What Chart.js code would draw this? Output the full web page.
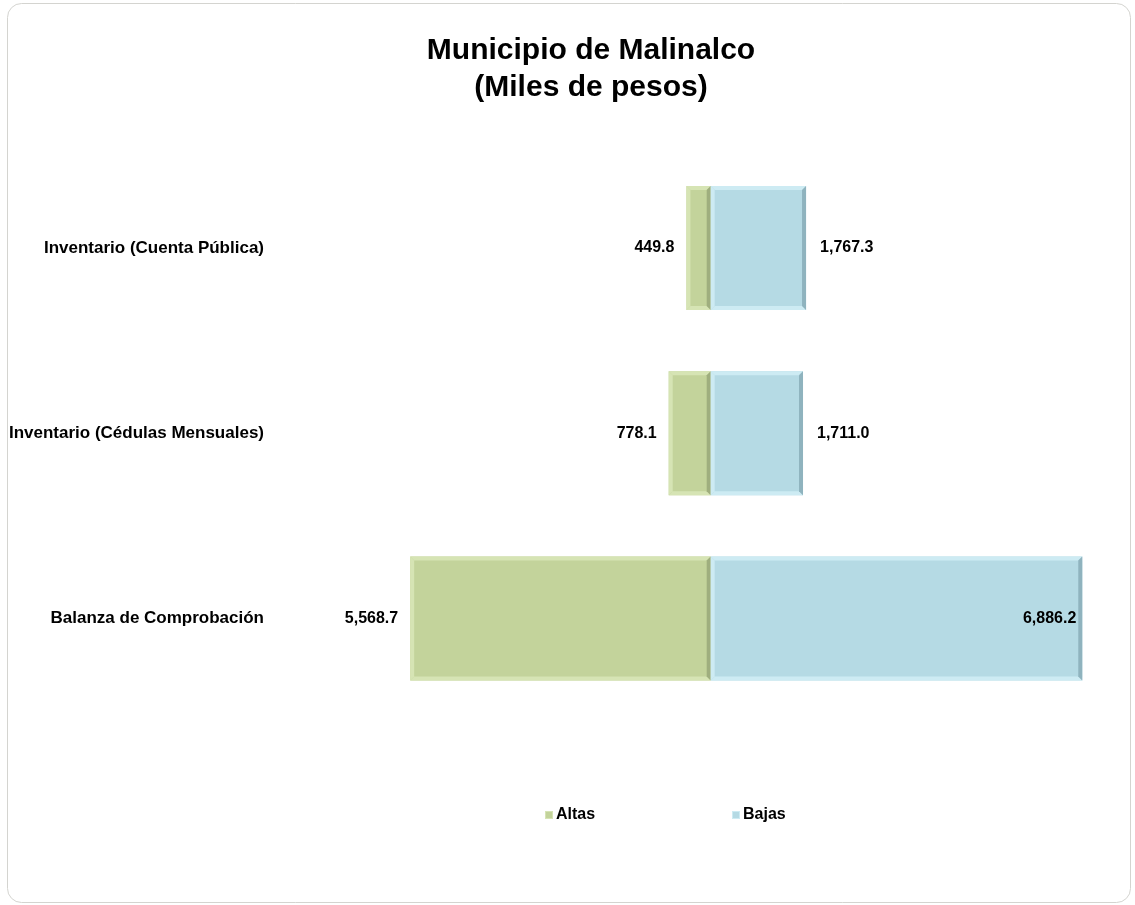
<!DOCTYPE html>
<html>
<head>
<meta charset="utf-8">
<script src="https://cdn.jsdelivr.net/npm/chart.js@4.4.0/dist/chart.umd.min.js"></script>
<style>
  html, body { margin: 0; padding: 0; background: #ffffff; }
  canvas { display: block; }
</style>
</head>
<body>
<canvas id="c" width="1135" height="905"></canvas>
<script>
const categories = ['Inventario (Cuenta Pública)', 'Inventario (Cédulas Mensuales)', 'Balanza de Comprobación'];
const altas = [449.8, 778.1, 5568.7];
const bajas = [1767.3, 1711.0, 6886.2];
const seriesNames = ['Altas', 'Bajas'];
const titleLines = ['Municipio de Malinalco', '(Miles de pesos)'];

const FONT = '"Liberation Sans", Arial, sans-serif';
const palette = {
  Altas: { fill: '#C3D39B', light: '#D6E4B4', dark: '#9FAE7E' },
  Bajas: { fill: '#B5DAE4', light: '#CDEBF3', dark: '#8FB3BE' }
};

const fmt = v => Math.abs(v).toLocaleString('en-US', { minimumFractionDigits: 1, maximumFractionDigits: 1 });

const framePlugin = {
  id: 'frame',
  beforeDraw(chart) {
    const ctx = chart.ctx;
    ctx.save();
    ctx.fillStyle = '#ffffff';
    ctx.fillRect(0, 0, chart.width, chart.height);
    ctx.strokeStyle = '#D4D4D0';
    ctx.lineWidth = 1;
    ctx.beginPath();
    ctx.roundRect(7.5, 3.5, chart.width - 12, chart.height - 6, 14);
    ctx.stroke();
    ctx.restore();
  }
};

const titlePlugin = {
  id: 'customTitle',
  afterDraw(chart) {
    const ctx = chart.ctx;
    ctx.save();
    ctx.font = 'bold 30px ' + FONT;
    ctx.fillStyle = '#000000';
    ctx.textAlign = 'center';
    ctx.textBaseline = 'middle';
    titleLines.forEach((t, i) => ctx.fillText(t, 591, 51 + i * 36.7));
    ctx.restore();
  }
};

const bevelPlugin = {
  id: 'bevel',
  afterDatasetsDraw(chart) {
    const ctx = chart.ctx;
    const b = 4;
    chart.data.datasets.forEach((ds, di) => {
      const meta = chart.getDatasetMeta(di);
      const col = palette[ds.label];
      meta.data.forEach(el => {
        const p = el.getProps(['x', 'y', 'base', 'height'], true);
        const l = Math.min(p.x, p.base), r = Math.max(p.x, p.base);
        const t = p.y - p.height / 2, bt = p.y + p.height / 2;
        ctx.save();
        ctx.fillStyle = col.light;
        ctx.beginPath(); ctx.moveTo(l, t); ctx.lineTo(r, t); ctx.lineTo(r - b, t + b); ctx.lineTo(l + b, t + b); ctx.closePath(); ctx.fill();
        ctx.beginPath(); ctx.moveTo(l, bt); ctx.lineTo(r, bt); ctx.lineTo(r - b, bt - b); ctx.lineTo(l + b, bt - b); ctx.closePath(); ctx.fill();
        ctx.beginPath(); ctx.moveTo(l, t); ctx.lineTo(l + b, t + b); ctx.lineTo(l + b, bt - b); ctx.lineTo(l, bt); ctx.closePath(); ctx.fill();
        ctx.fillStyle = col.dark;
        ctx.beginPath(); ctx.moveTo(r, t); ctx.lineTo(r - b, t + b); ctx.lineTo(r - b, bt - b); ctx.lineTo(r, bt); ctx.closePath(); ctx.fill();
        ctx.restore();
      });
    });
  }
};

const valueLabelPlugin = {
  id: 'valueLabels',
  afterDatasetsDraw(chart) {
    const ctx = chart.ctx;
    const area = chart.chartArea;
    ctx.save();
    ctx.font = 'bold 16px ' + FONT;
    ctx.fillStyle = '#000000';
    ctx.textBaseline = 'middle';
    chart.data.datasets.forEach((ds, di) => {
      const meta = chart.getDatasetMeta(di);
      meta.data.forEach((el, i) => {
        const p = el.getProps(['x', 'y', 'base'], true);
        const txt = fmt(ds.data[i]);
        const w = ctx.measureText(txt).width;
        if (ds.data[i] < 0) {
          const l = Math.min(p.x, p.base);
          ctx.textAlign = 'right';
          ctx.fillText(txt, l - 12, p.y);
        } else {
          const r = Math.max(p.x, p.base);
          if (r + 14 + w > area.right) {
            ctx.textAlign = 'right';
            ctx.fillText(txt, r - 6, p.y);
          } else {
            ctx.textAlign = 'left';
            ctx.fillText(txt, r + 14, p.y);
          }
        }
      });
    });
    ctx.restore();
  }
};

const legendPlugin = {
  id: 'customLegend',
  afterDraw(chart) {
    const ctx = chart.ctx;
    const items = [{ name: seriesNames[0], x: 545 }, { name: seriesNames[1], x: 732 }];
    const y = 815;
    ctx.save();
    ctx.font = 'bold 16px ' + FONT;
    ctx.textBaseline = 'middle';
    ctx.textAlign = 'left';
    items.forEach(it => {
      const col = palette[it.name];
      ctx.fillStyle = col.fill;
      ctx.fillRect(it.x, y - 4, 8, 8);
      ctx.strokeStyle = col.light;
      ctx.lineWidth = 1;
      ctx.strokeRect(it.x + 0.5, y - 3.5, 7, 7);
      ctx.fillStyle = '#000000';
      ctx.fillText(it.name, it.x + 11, y);
    });
    ctx.restore();
  }
};

new Chart(document.getElementById('c'), {
  type: 'bar',
  data: {
    labels: categories,
    datasets: [
      {
        label: seriesNames[0],
        data: altas.map(v => -v),
        backgroundColor: palette.Altas.fill,
        borderWidth: 0,
        barPercentage: 0.67,
        categoryPercentage: 1.0
      },
      {
        label: seriesNames[1],
        data: bajas,
        backgroundColor: palette.Bajas.fill,
        borderWidth: 0,
        barPercentage: 0.67,
        categoryPercentage: 1.0
      }
    ]
  },
  options: {
    indexAxis: 'y',
    responsive: false,
    animation: false,
    layout: { padding: { left: 0, right: 25, top: 155.5, bottom: 194 } },
    plugins: {
      legend: { display: false },
      tooltip: { enabled: false },
      title: { display: false }
    },
    scales: {
      x: {
        stacked: true,
        display: false,
        min: -8000,
        max: 7400
      },
      y: {
        stacked: true,
        grid: { display: false, drawTicks: false },
        border: { display: false },
        ticks: {
          color: '#000000',
          padding: 15,
          font: { family: FONT, size: 17, weight: 'bold' }
        },
        afterFit(scale) { scale.width = 279; }
      }
    }
  },
  plugins: [framePlugin, bevelPlugin, valueLabelPlugin, legendPlugin, titlePlugin]
});
</script>
</body>
</html>
